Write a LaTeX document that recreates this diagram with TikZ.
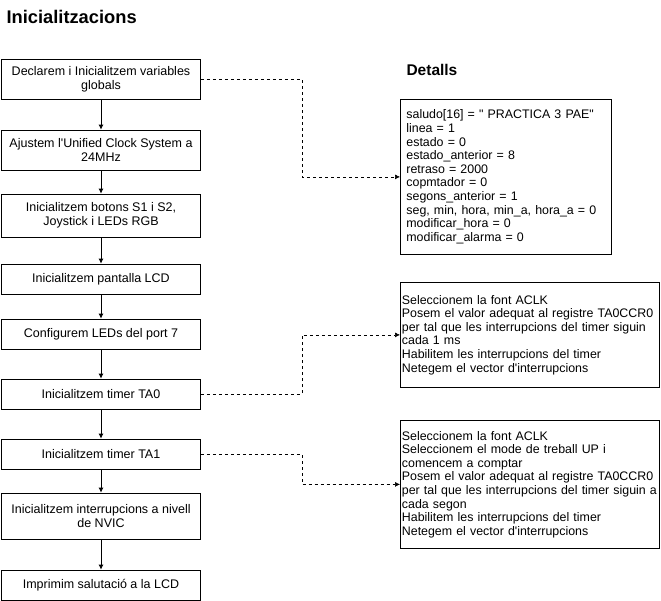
\documentclass[tikz,border=0pt]{standalone}
\usepackage{fontspec}
\setmainfont{Liberation Sans}[Ligatures=TeXOff]
\usetikzlibrary{arrows.meta}

\begin{document}
\begin{tikzpicture}[x=1pt,y=-1pt,
    paso/.style={draw,line width=0.8pt,minimum width=199pt,inner sep=2pt,
      align=center,font=\fontsize{12.5}{13.6}\selectfont},
    detall/.style={draw,line width=0.8pt,inner sep=0pt,align=left,anchor=north west,
      font=\fontsize{12.4}{13.6}\selectfont},
    flecha/.style={-{Latex[length=5pt,width=5pt]},line width=0.8pt},
    enllac/.style={dashed,-{Latex[length=5pt,width=5pt]},line width=0.6pt}]

          \useasboundingbox (0,0) rectangle (661,600);

          \node[anchor=west,font=\fontsize{18.3}{20}\bfseries] (titol) at (3,17) {Inicialitzacions};
          \node[anchor=west,font=\fontsize{15.5}{18}\bfseries] (titold) at (403,70) {Detalls};

          \node[paso,minimum height=40pt] (P1) at (101,79) {Declarem i Inicialitzem variables\\globals};
          \node[paso,minimum height=40pt] (P2) at (101,150) {Ajustem l'Unified Clock System a\\24MHz};
          \node[paso,minimum height=43pt] (P3) at (101,215.5) {Inicialitzem botons S1 i S2,\\Joystick i LEDs RGB};
          \node[paso,minimum height=30pt] (P4) at (101,279) {Inicialitzem pantalla LCD};
          \node[paso,minimum height=30pt] (P5) at (101,334) {Configurem LEDs del port 7};
          \node[paso,minimum height=30pt] (P6) at (101,394) {Inicialitzem timer TA0};
          \node[paso,minimum height=30pt] (P7) at (101,454) {Inicialitzem timer TA1};
          \node[paso,minimum height=46pt] (P8) at (101,516) {Inicialitzem interrupcions a nivell\\de NVIC};
          \node[paso,minimum height=30pt] (P9) at (101,585) {Imprimim salutació a la LCD};

          \node[detall,minimum width=211pt,minimum height=155pt,text width=199pt,inner xsep=6pt,inner ysep=1pt] (D1) at (400,99) {%
            saludo[16] = " PRACTICA 3 PAE"\\linea = 1\\estado = 0\\estado\_anterior = 8\\retraso = 2000\\
            copmtador = 0\\segons\_anterior = 1\\seg, min, hora, min\_a, hora\_a = 0\\
            modificar\_hora = 0\\modificar\_alarma = 0};
          \node[detall,minimum width=259pt,minimum height=105pt,text width=256pt,inner xsep=1.5pt] (D2) at (400,282) {%
            Seleccionem la font ACLK\\Posem el valor adequat al registre TA0CCR0\\
            per tal que les interrupcions del timer siguin\\cada 1 ms\\
            Habilitem les interrupcions del timer\\Netegem el vector d'interrupcions};
          \node[detall,minimum width=259pt,minimum height=128pt,text width=256pt,inner xsep=1.5pt] (D3) at (400,420) {%
            Seleccionem la font ACLK\\Seleccionem el mode de treball UP i\\comencem a comptar\\
            Posem el valor adequat al registre TA0CCR0\\per tal que les interrupcions del timer siguin a\\
            cada segon\\Habilitem les interrupcions del timer\\Netegem el vector d'interrupcions};

          % flux principal
          \draw[flecha] (P1)--(P2);
          \draw[flecha] (P2)--(P3);
          \draw[flecha] (P3)--(P4);
          \draw[flecha] (P4)--(P5);
          \draw[flecha] (P5)--(P6);
          \draw[flecha] (P6)--(P7);
          \draw[flecha] (P7)--(P8);
          \draw[flecha] (P8)--(P9);

          % detalls
          \draw[enllac] (P1.east) -- ++(101,0) |- (D1.west);
          \draw[enllac] (P6.east) -- ++(101,0) |- (D2.west);
          \draw[enllac] (P7.east) -- ++(101,0) |- (D3.west);

        \end{tikzpicture}
\end{document}
